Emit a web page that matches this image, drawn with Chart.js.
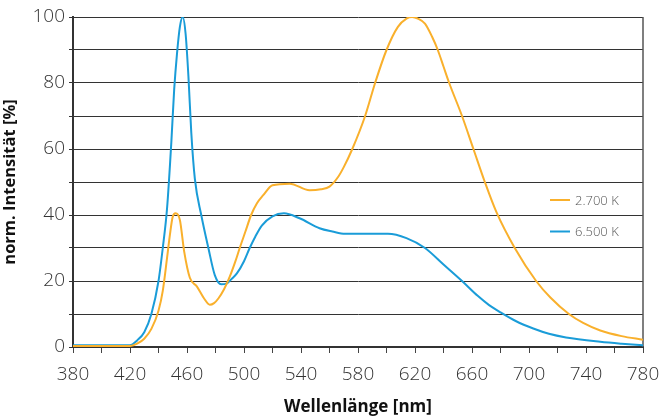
<!DOCTYPE html>
<html>
<head>
<meta charset="utf-8">
<script src="https://cdn.jsdelivr.net/npm/chart.js@4/dist/chart.umd.min.js"></script>
<style>
  html, body { margin: 0; padding: 0; background: #fff; }
  #wrap { width: 661px; height: 417px; }
</style>
</head>
<body>
<div id="wrap"><canvas id="spectrum" width="661" height="417"></canvas></div>
<script>
// wavelengths [nm] and relative intensity [%]
const warmWl = [380, 420, 425, 430, 435, 440, 443, 446, 448, 450, 452, 455, 458, 462, 467, 472, 476, 479, 482, 486, 490, 494, 497, 501, 505, 509, 513.5, 520, 532, 546, 554, 560, 566, 570, 576, 585, 592, 600, 608, 614, 618, 622, 627, 632, 636, 640, 644, 653, 661, 669, 677, 690, 705, 715, 728, 738, 750, 765, 780];
const warmVal = [0.3, 0.3, 1, 2.5, 5.5, 11, 17, 27, 34, 39.5, 40.5, 38.5, 29, 21, 18.3, 14.7, 12.8, 13.3, 14.7, 17.5, 21.3, 26, 30, 35, 40, 43.5, 46, 49, 49.5, 47.5, 47.8, 48.6, 51.5, 54.5, 60, 70, 80, 90, 97, 99.5, 100, 99.5, 98, 94, 90, 85, 80, 70, 60, 50, 41, 30, 20, 15, 10, 7.3, 5, 3.3, 2.2];

const coolWl = [380, 420, 425, 430, 435, 440, 443, 446, 449, 451, 453, 455, 457, 459, 461, 463, 465.5, 470, 475, 479.5, 484, 488, 491, 495, 500, 504, 508, 512.5, 520, 528, 539, 553, 562, 571, 601, 614, 627, 640, 653, 664, 672, 680, 691, 703, 714, 726, 750, 765, 780];
const coolVal = [0.5, 0.5, 2, 4.5, 10, 20, 30, 42, 62, 78, 89, 97, 100, 95, 82, 65, 51, 40, 30, 21.8, 19, 19.3, 20.5, 22.3, 26, 30, 33.5, 36.8, 39.6, 40.5, 39, 36, 35, 34.3, 34.3, 33, 30, 25, 20, 15.5, 12.7, 10.5, 7.8, 5.6, 4, 2.9, 1.6, 1, 0.5];

const seriesNames = ["2.700 K", "6.500 K"];
const seriesColors = ["#F9B02C", "#1A9CD8"];

const xTicks = [380, 420, 460, 500, 540, 580, 620, 660, 700, 740, 780];
const yTicks = [0, 20, 40, 60, 80, 100];

const toPoints = (wl, val) => wl.map((w, i) => ({ x: w, y: val[i] }));

// small legend drawn inside the plot, right side
const insideLegend = {
  id: "insideLegend",
  afterDraw(chart) {
    const ctx = chart.ctx;
    ctx.save();
    ctx.font = "300 13px 'Open Sans', sans-serif";
    ctx.textBaseline = "middle";
    chart.data.datasets.forEach((ds, i) => {
      const y = 200 + i * 31.5;
      ctx.strokeStyle = ds.borderColor;
      ctx.lineWidth = 2;
      ctx.beginPath();
      ctx.moveTo(550, y);
      ctx.lineTo(570, y);
      ctx.stroke();
      ctx.fillStyle = "#555";
      ctx.fillText(ds.label, 575, y + 1);
    });
    ctx.restore();
  }
};

// right frame line
const rightBorder = {
  id: "rightBorder",
  beforeDatasetsDraw(chart) {
    const { ctx, chartArea } = chart;
    ctx.save();
    ctx.strokeStyle = "#555";
    ctx.lineWidth = 1.5;
    ctx.beginPath();
    ctx.moveTo(chartArea.right, chartArea.top);
    ctx.lineTo(chartArea.right, chartArea.bottom);
    ctx.stroke();
    ctx.restore();
  }
};

new Chart(document.getElementById("spectrum"), {
  type: "line",
  data: {
    datasets: [
      {
        label: seriesNames[0],
        data: toPoints(warmWl, warmVal),
        borderColor: seriesColors[0],
        borderWidth: 2,
        pointRadius: 0,
        cubicInterpolationMode: "monotone",
        fill: false
      },
      {
        label: seriesNames[1],
        data: toPoints(coolWl, coolVal),
        borderColor: seriesColors[1],
        borderWidth: 2,
        pointRadius: 0,
        cubicInterpolationMode: "monotone",
        fill: false
      }
    ]
  },
  options: {
    responsive: false,
    animation: false,
    devicePixelRatio: 1,
    layout: { padding: { top: 17, right: 18, left: 0, bottom: 0 } },
    plugins: {
      legend: { display: false },
      tooltip: { enabled: false }
    },
    scales: {
      x: {
        type: "linear",
        min: 380,
        max: 780,
        ticks: {
          stepSize: 20,
          autoSkip: false,
          maxRotation: 0,
          padding: 10,
          color: "#333",
          font: { family: "'Open Sans', sans-serif", size: 19, weight: 300 },
          callback: (v) => (xTicks.includes(v) ? String(v) : "")
        },
        grid: {
          drawOnChartArea: false,
          drawTicks: true,
          tickLength: 6,
          color: "#444",
          lineWidth: 1
        },
        border: { color: "#333", width: 2 },
        title: {
          display: true,
          text: "Wellenlänge [nm]",
          color: "#111",
          font: { family: "'Open Sans', sans-serif", size: 17, weight: "bold" },
          padding: { top: 2, bottom: 0 }
        },
        afterFit: (scale) => {
          scale.height = 70;
          scale.paddingLeft = 0;
          scale.paddingRight = 0;
        }
      },
      y: {
        min: 0,
        max: 100,
        ticks: {
          stepSize: 10,
          autoSkip: false,
          padding: 4,
          color: "#333",
          font: { family: "'Open Sans', sans-serif", size: 19, weight: 300 },
          callback: (v) => (yTicks.includes(v) ? String(v) : "")
        },
        grid: {
          color: "#333",
          lineWidth: 1,
          tickLength: 4
        },
        border: { color: "#333", width: 2 },
        title: {
          display: true,
          text: "norm. Intensität [%]",
          color: "#111",
          font: { family: "'Open Sans', sans-serif", size: 16.5, weight: "bold" },
          padding: { top: 0, bottom: 2 }
        },
        afterFit: (scale) => { scale.width = 73; }
      }
    }
  },
  plugins: [insideLegend, rightBorder]
});
</script>
</body>
</html>
